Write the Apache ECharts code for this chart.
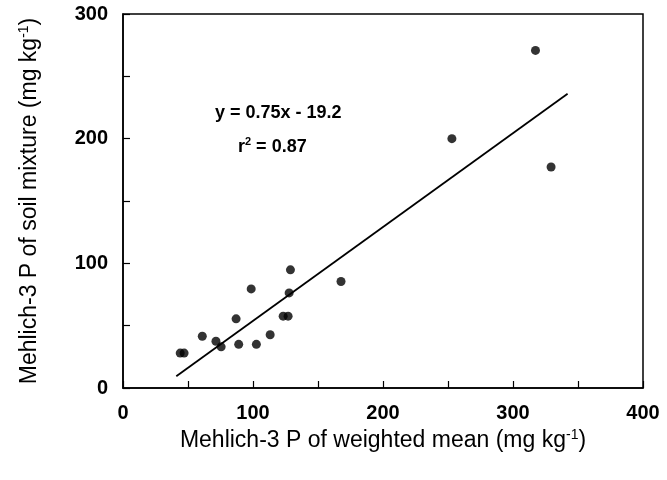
<!DOCTYPE html>
<html>
<head>
<meta charset="utf-8">
<script src="https://cdn.jsdelivr.net/npm/echarts@6/dist/echarts.min.js"></script>
<style>html,body{margin:0;padding:0;background:#fff;}#c{width:667px;height:480px;}</style>
</head>
<body>
<div id="c"></div>
<script>
// Data
var weightedMean = [44, 47, 61, 71.5, 75.5, 87, 89, 98.6, 102.6, 113.2, 123.2, 127, 127.8, 128.8, 167.7, 253, 317.3, 329.3];
var soilMixture  = [28, 28, 41.5, 37.5, 33, 55.5, 35, 79.5, 35, 42.7, 57.6, 57.6, 76.3, 94.8, 85.4, 200, 270.8, 177.3];
var fitX = [41, 342];
var fitY = [9.5, 236];
var xTicks = [0, 100, 200, 300, 400];
var yTicks = [0, 100, 200, 300];
var equationText = 'y = 0.75x - 19.2';
var r2Text = '0.87';

var points = weightedMean.map(function (x, i) { return [x, soilMixture[i]]; });
var fitLine = fitX.map(function (x, i) { return [x, fitY[i]]; });

var FONT = 'Liberation Sans, Arial, sans-serif';
var titleRich = {
  a: {fontSize: 23, fontFamily: FONT, color: '#000', lineHeight: 26},
  s: {fontSize: 14, fontFamily: FONT, color: '#000', verticalAlign: 'top', lineHeight: 26, padding: [0, 0, 10, 0]}
};
var chart = echarts.init(document.getElementById('c'), null, {renderer: 'canvas'});
chart.setOption({
  animation: false,
  backgroundColor: '#fff',
  grid: {left: 123, right: 24, top: 14, bottom: 92, show: true, borderColor: '#000', borderWidth: 1.5, backgroundColor: 'transparent'},
  xAxis: {
    type: 'value', min: xTicks[0], max: xTicks[xTicks.length - 1], interval: 100,
    splitLine: {show: false},
    axisLine: {lineStyle: {color: '#000', width: 1.5}},
    axisTick: {inside: true, length: 7, lineStyle: {color: '#000', width: 1.2}},
    minorTick: {show: true, splitNumber: 2, length: 7, lineStyle: {color: '#000', width: 1.2}},
    axisLabel: {color: '#000', fontSize: 20, fontWeight: 'bold', fontFamily: FONT, margin: 15},
    name: '{a|Mehlich-3 P of weighted mean (mg kg}{s|-1}{a|)}',
    nameLocation: 'middle', nameGap: 40,
    nameTextStyle: {rich: titleRich}
  },
  yAxis: {
    type: 'value', min: yTicks[0], max: yTicks[yTicks.length - 1], interval: 100,
    splitLine: {show: false},
    axisLine: {lineStyle: {color: '#000', width: 1.5}},
    axisTick: {inside: true, length: 7, lineStyle: {color: '#000', width: 1.2}},
    minorTick: {show: true, splitNumber: 2, length: 7, lineStyle: {color: '#000', width: 1.2}},
    axisLabel: {color: '#000', fontSize: 20, fontWeight: 'bold', fontFamily: FONT, margin: 15},
    name: '{a|Mehlich-3 P of soil mixture (mg kg}{s|-1}{a|)}',
    nameLocation: 'middle', nameGap: 80,
    nameTextStyle: {rich: titleRich}
  },
  series: [
    {type: 'scatter', data: points, symbol: 'circle', symbolSize: 9, itemStyle: {color: '#000'}, z: 3},
    {type: 'line', data: fitLine, showSymbol: false, symbol: 'none', lineStyle: {color: '#000', width: 1.8}, z: 2}
  ],
  graphic: [
    {type: 'text', left: 215, top: 104, style: {text: equationText, fill: '#000', font: 'bold 18px ' + FONT}},
    {type: 'text', left: 238, top: 136, style: {text: '{a|r}{s|2}{a| = ' + r2Text + '}', fill: '#000', rich: {a: {fontSize: 18, fontWeight: 'bold', fontFamily: FONT, fill: '#000', lineHeight: 22}, s: {fontSize: 11, fontWeight: 'bold', fontFamily: FONT, fill: '#000', verticalAlign: 'top', lineHeight: 22}}}}
  ]
});
</script>
</body>
</html>
